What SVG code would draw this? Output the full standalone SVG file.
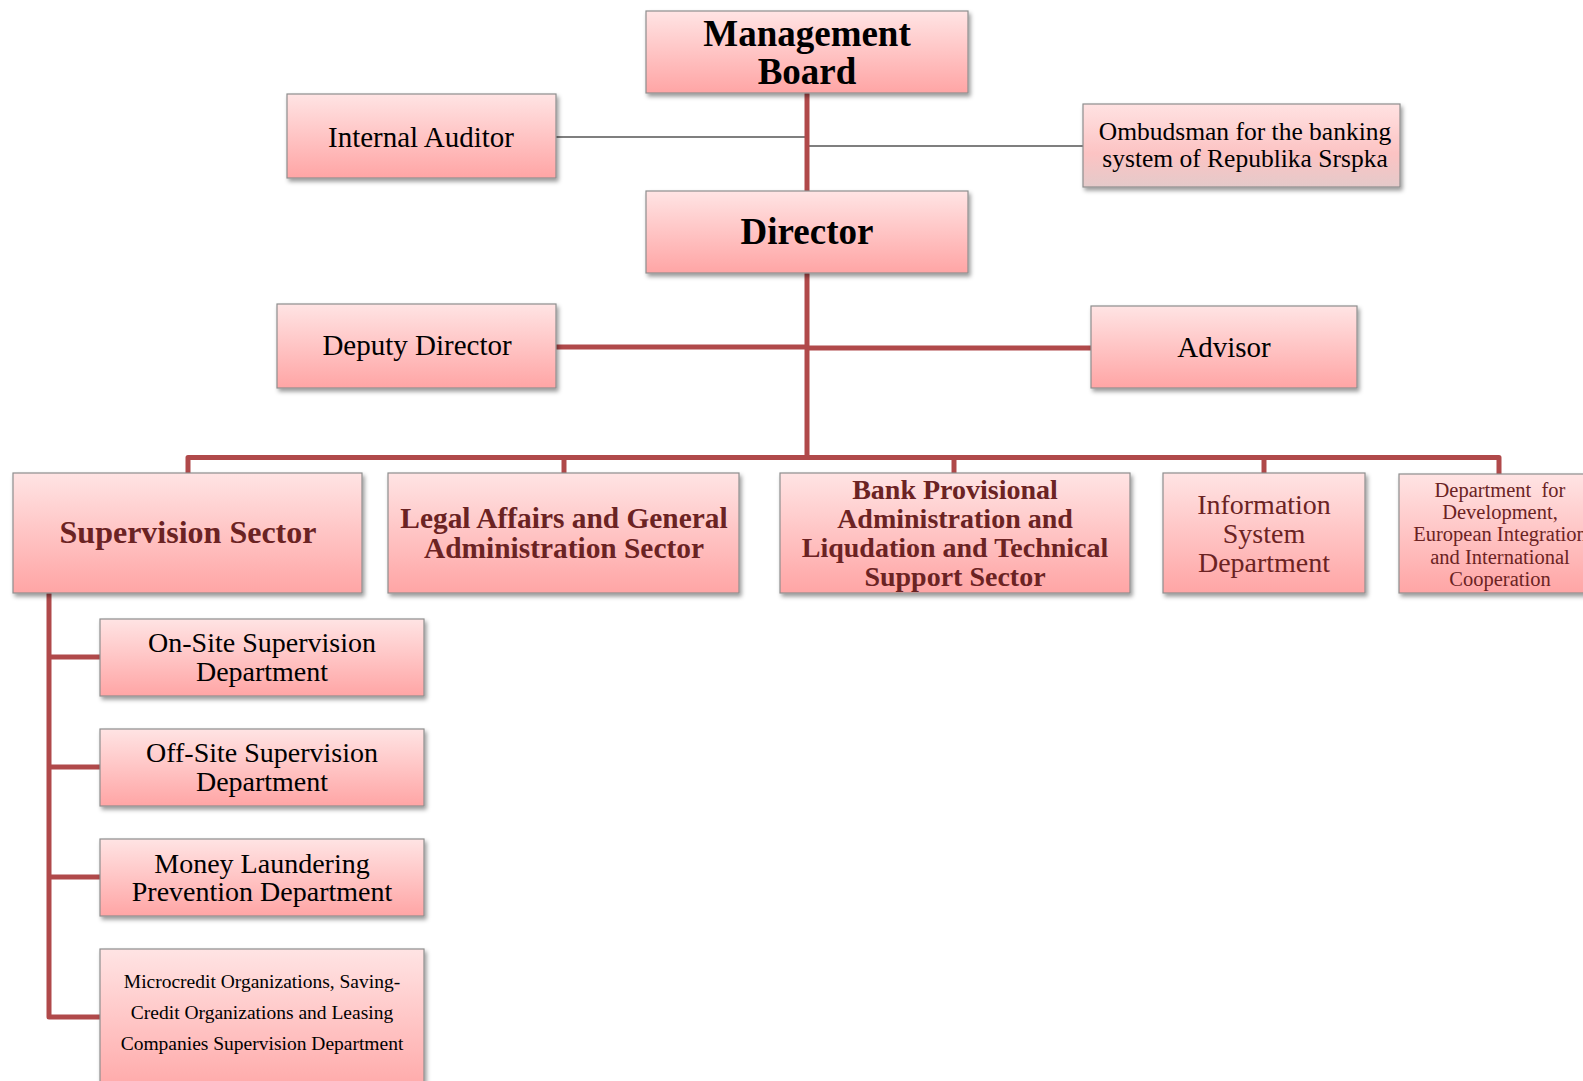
<svg xmlns="http://www.w3.org/2000/svg" width="1583" height="1081" viewBox="0 0 1583 1081">
  <defs>
    <linearGradient id="pink" x1="0" y1="0" x2="0" y2="1">
      <stop offset="0" stop-color="#ffe4e4"/>
      <stop offset="1" stop-color="#ffa5a5"/>
    </linearGradient>
    <linearGradient id="pinkGrey" x1="0" y1="0" x2="0" y2="1">
      <stop offset="0" stop-color="#ffe2e2"/>
      <stop offset="0.6" stop-color="#fcc3c3"/>
      <stop offset="1" stop-color="#e4caca"/>
    </linearGradient>
    <filter id="shadow" x="-10%" y="-20%" width="120%" height="150%">
      <feDropShadow dx="2" dy="3" stdDeviation="2.2" flood-color="#000" flood-opacity="0.4"/>
    </filter>
  </defs>
  <style>
    .box { fill: url(#pink); stroke: #8e8e8e; stroke-width: 1.2; filter: url(#shadow); }
    .box.grey { fill: url(#pinkGrey); }
    .t { font-family: "Liberation Serif", "Times New Roman", serif; text-anchor: middle; fill: #000; }
    .b { font-weight: bold; }
    .dark { fill: #6b2323; }
    .link { fill: none; stroke: #b0494a; stroke-width: 5; stroke-linejoin: round; }
    .thin { fill: none; stroke: #7f7f7f; stroke-width: 2; }
  </style>

  <rect width="1583" height="1081" fill="#fff"/>

  <!-- connectors -->
  <g id="connectors">
    <line class="thin" x1="556" y1="137" x2="807" y2="137"/>
    <line class="thin" x1="807" y1="146" x2="1083" y2="146"/>
    <line class="link" x1="807" y1="93" x2="807" y2="191"/>
    <line class="link" x1="807" y1="273" x2="807" y2="457"/>
    <line class="link" x1="556" y1="347" x2="807" y2="347"/>
    <line class="link" x1="807" y1="348" x2="1091" y2="348"/>
    <path class="link" d="M188 473 V457.5 H1499 V474"/>
    <line class="link" x1="564" y1="457.5" x2="564" y2="473"/>
    <line class="link" x1="954" y1="457.5" x2="954" y2="473"/>
    <line class="link" x1="1264" y1="457.5" x2="1264" y2="473"/>
    <path class="link" d="M49 593 V1017 H100"/>
    <line class="link" x1="49" y1="657" x2="100" y2="657"/>
    <line class="link" x1="49" y1="767" x2="100" y2="767"/>
    <line class="link" x1="49" y1="877" x2="100" y2="877"/>
  </g>

  <!-- top management -->
  <g id="management-board">
    <rect class="box" x="646" y="11" width="322" height="82"/>
    <text class="t b" x="807" y="46" font-size="37">Management</text>
    <text class="t b" x="807" y="84" font-size="37">Board</text>
  </g>
  <g id="internal-auditor">
    <rect class="box" x="287" y="94" width="269" height="84"/>
    <text class="t" x="421" y="147" font-size="29">Internal Auditor</text>
  </g>
  <g id="ombudsman">
    <rect class="box grey" x="1083" y="104" width="317" height="83"/>
    <text class="t" x="1245" y="140" font-size="25.5">Ombudsman for the banking</text>
    <text class="t" x="1245" y="167" font-size="25.5">system of Republika Srspka</text>
  </g>
  <g id="director">
    <rect class="box" x="646" y="191" width="322" height="82"/>
    <text class="t b" x="807" y="244" font-size="37">Director</text>
  </g>
  <g id="deputy-director">
    <rect class="box" x="277" y="304" width="279" height="84"/>
    <text class="t" x="417" y="355" font-size="29">Deputy Director</text>
  </g>
  <g id="advisor">
    <rect class="box" x="1091" y="306" width="266" height="82"/>
    <text class="t" x="1224" y="357" font-size="29">Advisor</text>
  </g>

  <!-- sectors and departments -->
  <g id="supervision-sector">
    <rect class="box" x="13" y="473" width="349" height="120"/>
    <text class="t b dark" x="188" y="543" font-size="32">Supervision Sector</text>
  </g>
  <g id="legal-affairs-sector">
    <rect class="box" x="388" y="473" width="351" height="120"/>
    <text class="t b dark" x="564" y="528" font-size="29.4">Legal Affairs and General</text>
    <text class="t b dark" x="564" y="558" font-size="29.4">Administration Sector</text>
  </g>
  <g id="bank-provisional-sector">
    <rect class="box" x="780" y="473" width="350" height="120"/>
    <text class="t b dark" x="955" y="499" font-size="28">Bank Provisional</text>
    <text class="t b dark" x="955" y="528" font-size="28">Administration and</text>
    <text class="t b dark" x="955" y="557" font-size="28">Liqudation and Technical</text>
    <text class="t b dark" x="955" y="586" font-size="28">Support Sector</text>
  </g>
  <g id="information-system-department">
    <rect class="box" x="1163" y="473" width="202" height="120"/>
    <text class="t dark" x="1264" y="514" font-size="28">Information</text>
    <text class="t dark" x="1264" y="543" font-size="28">System</text>
    <text class="t dark" x="1264" y="572" font-size="28">Department</text>
  </g>
  <g id="development-department">
    <rect class="box" x="1399" y="474" width="202" height="119"/>
    <text class="t dark" x="1500" y="497" font-size="20.5" xml:space="preserve">Department  for</text>
    <text class="t dark" x="1500" y="519.2" font-size="20.5">Development,</text>
    <text class="t dark" x="1500" y="541.4" font-size="20.5">European Integration</text>
    <text class="t dark" x="1500" y="563.6" font-size="20.5">and International</text>
    <text class="t dark" x="1500" y="585.8" font-size="20.5">Cooperation</text>
  </g>

  <g id="on-site-supervision">
    <rect class="box" x="100" y="619" width="324" height="77"/>
    <text class="t" x="262" y="652" font-size="28">On-Site Supervision</text>
    <text class="t" x="262" y="681" font-size="28">Department</text>
  </g>
  <g id="off-site-supervision">
    <rect class="box" x="100" y="729" width="324" height="77"/>
    <text class="t" x="262" y="762" font-size="28">Off-Site Supervision</text>
    <text class="t" x="262" y="791" font-size="28">Department</text>
  </g>
  <g id="money-laundering-prevention">
    <rect class="box" x="100" y="839" width="324" height="77"/>
    <text class="t" x="262" y="873" font-size="28">Money Laundering</text>
    <text class="t" x="262" y="901" font-size="28">Prevention Department</text>
  </g>
  <g id="microcredit-supervision">
    <rect class="box" x="100" y="949" width="324" height="150"/>
    <text class="t" x="262" y="988" font-size="19.5">Microcredit Organizations, Saving-</text>
    <text class="t" x="262" y="1019" font-size="19.5">Credit Organizations and Leasing</text>
    <text class="t" x="262" y="1050" font-size="19.5">Companies Supervision Department</text>
  </g>
</svg>
